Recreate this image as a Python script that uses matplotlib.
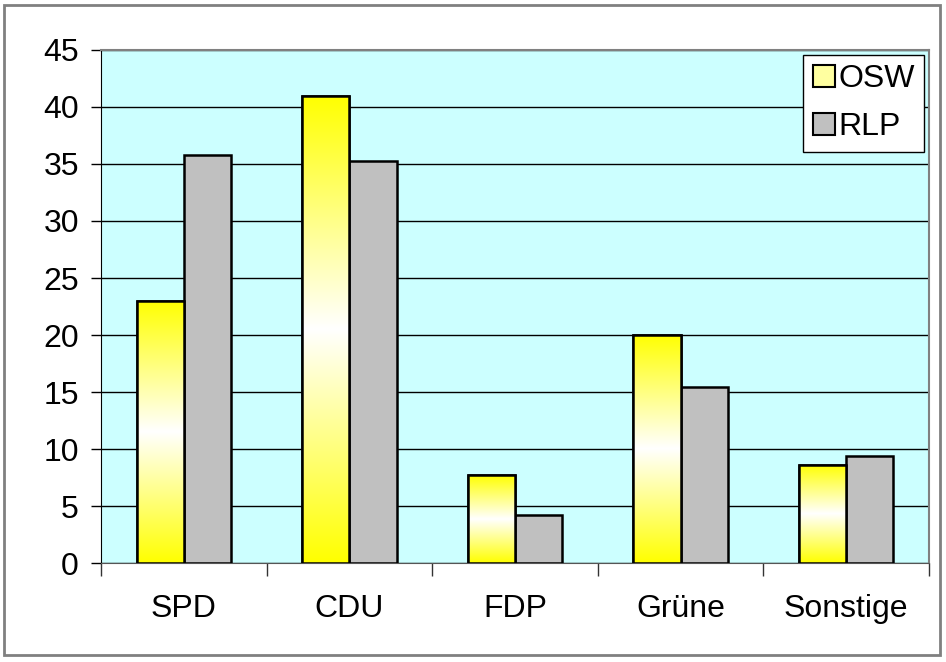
import numpy as np
import matplotlib.pyplot as plt
from matplotlib.patches import Rectangle, Patch
from matplotlib.colors import LinearSegmentedColormap

categories = ["SPD", "CDU", "FDP", "Grüne", "Sonstige"]
osw = [23.0, 41.0, 7.7, 20.0, 8.6]
rlp = [35.8, 35.3, 4.2, 15.4, 9.4]

plt.rcParams['font.family'] = ['Liberation Sans', 'DejaVu Sans']

fig = plt.figure(figsize=(9.46, 6.62), dpi=100)
ax = fig.add_axes([0.1068, 0.1495, 0.8752, 0.775])
ax.set_facecolor("#ccffff")

x = np.arange(len(categories))
w = 1 / 3.5
bars_osw = ax.bar(x - w / 2, osw, w, color="yellow", edgecolor="black", linewidth=1.8, zorder=3)
bars_rlp = ax.bar(x + w / 2, rlp, w, color="#c0c0c0", edgecolor="black", linewidth=1.8, zorder=3)

# yellow - white - yellow gradient inside the OSW bars
cmap = LinearSegmentedColormap.from_list("yw", ["#ffff00", "#ffffff", "#ffff00"])
grad = np.linspace(0, 1, 256).reshape(-1, 1)
for b in bars_osw:
    bx, by = b.get_x(), b.get_y()
    im = ax.imshow(grad, cmap=cmap, aspect="auto", zorder=3.5,
                   extent=[bx, bx + b.get_width(), by, by + b.get_height()])
    im.set_clip_path(b)
    ax.add_patch(Rectangle((bx, by), b.get_width(), b.get_height(), fill=False,
                           edgecolor="black", linewidth=1.8, zorder=4))

ax.set_xlim(-0.5, len(categories) - 0.5)
ax.set_ylim(0, 45)
ax.set_yticks(np.arange(0, 46, 5))
ax.yaxis.grid(True, color="black", linewidth=1, zorder=1)
ax.set_axisbelow(True)

ax.set_xticks(x)
ax.set_xticklabels(categories)
ax.set_xticks(np.arange(-0.5, len(categories)), minor=True)
ax.tick_params(axis="x", which="major", length=0, pad=22, labelsize=23)
ax.tick_params(axis="x", which="minor", length=9, width=1, color="#333333", direction="out")
ax.tick_params(axis="y", length=7, width=1, direction="out", pad=9, labelsize=23)

for s in ["top", "right"]:
    ax.spines[s].set_color("#808080")
    ax.spines[s].set_linewidth(1.5)
ax.spines["left"].set_color("black")
ax.spines["bottom"].set_color("#555555")

handles = [Patch(facecolor="#ffffa0", edgecolor="black", linewidth=1.5, label="OSW"),
           Patch(facecolor="#c0c0c0", edgecolor="black", linewidth=1.5, label="RLP")]
leg = ax.legend(handles=handles, loc="upper right", fontsize=23, frameon=True,
                fancybox=False, edgecolor="black", framealpha=1,
                handlelength=0.7, handleheight=0.7, handletextpad=0.1,
                labelspacing=0.55, borderpad=0.3, borderaxespad=0.15)
leg.get_frame().set_linewidth(1)

fig.add_artist(Rectangle((0.004, 0.01), 0.99, 0.982, transform=fig.transFigure,
                         fill=False, edgecolor="#808080", linewidth=2))

fig.savefig("out.png", dpi=100)
